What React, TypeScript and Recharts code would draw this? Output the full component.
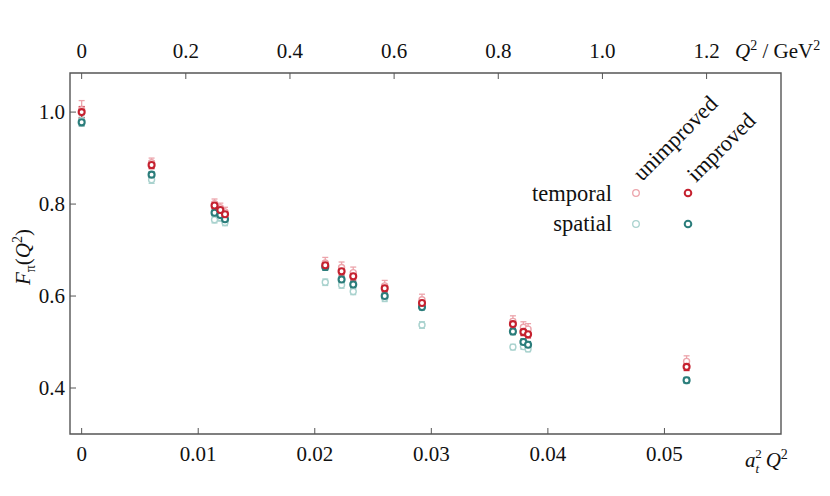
import React from 'react';
import { ScatterChart, Scatter, XAxis, YAxis, ErrorBar, ReferenceArea } from 'recharts';

// a_t^2 Q^2 positions of the momenta
const xPoints = [0, 0.006, 0.0114, 0.0119, 0.0123, 0.0209, 0.0223, 0.0233, 0.026, 0.0292, 0.037, 0.0379, 0.0383, 0.0519];

const temporalUnimproved = [1.005, 0.89, 0.801, 0.792, 0.783, 0.672, 0.662, 0.651, 0.622, 0.592, 0.545, 0.532, 0.528, 0.458];
const temporalUnimprovedErr = [0.02, 0.01, 0.01, 0.01, 0.01, 0.012, 0.012, 0.012, 0.012, 0.012, 0.012, 0.012, 0.012, 0.012];
const temporalImproved = [1.0, 0.885, 0.797, 0.787, 0.778, 0.667, 0.654, 0.643, 0.617, 0.585, 0.539, 0.522, 0.517, 0.446];
const temporalImprovedErr = [0.012, 0.008, 0.007, 0.007, 0.007, 0.008, 0.008, 0.008, 0.008, 0.008, 0.01, 0.008, 0.008, 0.008];
const spatialUnimproved = [0.982, 0.853, 0.766, 0.77, 0.76, 0.63, 0.624, 0.61, 0.595, 0.537, 0.489, 0.49, 0.485, 0.416];
const spatialUnimprovedErr = [0.01, 0.008, 0.007, 0.007, 0.007, 0.007, 0.007, 0.007, 0.007, 0.007, 0.006, 0.006, 0.006, 0.006];
const spatialImproved = [0.978, 0.864, 0.781, 0.776, 0.767, 0.663, 0.636, 0.625, 0.6, 0.576, 0.523, 0.5, 0.494, 0.417];
const spatialImprovedErr = [0.008, 0.006, 0.006, 0.006, 0.006, 0.007, 0.007, 0.007, 0.006, 0.006, 0.007, 0.007, 0.007, 0.006];

const AT2 = 0.04468; // a_t^2 in GeV^-2
const bottomTicks = [0, 0.01, 0.02, 0.03, 0.04, 0.05];
const bottomTickLabels = ['0', '0.01', '0.02', '0.03', '0.04', '0.05'];
const topTickQ2 = [0, 0.2, 0.4, 0.6, 0.8, 1.0, 1.2];
const topTickLabels = ['0', '0.2', '0.4', '0.6', '0.8', '1.0', '1.2'];
const yTicks = [0.4, 0.6, 0.8, 1.0];
const yTickLabels = ['0.4', '0.6', '0.8', '1.0'];

const X_DOMAIN: [number, number] = [-0.001, 0.06];
const Y_DOMAIN: [number, number] = [0.3, 1.085];

const FONT = "'Liberation Serif', 'DejaVu Serif', serif";
const FS = 21;
const LFS = 22.5;
const AXIS = '#555';
const TS = { fontFamily: FONT } as React.CSSProperties;

const C_TU = '#eca4ab';
const C_TI = '#c5212f';
const C_SU = '#a9d2ce';
const C_SI = '#2b7d7b';

const mk = (vals: number[], errs: number[]) => xPoints.map((x, i) => ({ x, y: vals[i], err: errs[i] }));

const shapeFor = (color: string, sw: number) => (p: any) => (
  <circle cx={p.cx} cy={p.cy} r={3} fill="#fff" stroke={color} strokeWidth={sw} />
);

const BottomTick = (p: any) => (
  <g>
    <line x1={p.x} x2={p.x} y1={p.y} y2={p.y - 6} stroke={AXIS} strokeWidth={1} />
    <text x={p.x} y={p.y + 27} textAnchor="middle" style={TS} fontSize={FS} fill="#111">
      {bottomTickLabels[p.index]}
    </text>
  </g>
);

const TopTick = (p: any) => (
  <g>
    <line x1={p.x} x2={p.x} y1={p.y} y2={p.y + 6} stroke={AXIS} strokeWidth={1} />
    <text x={p.x} y={p.y - 15} textAnchor="middle" style={TS} fontSize={FS} fill="#111">
      {topTickLabels[p.index]}
    </text>
  </g>
);

const LeftTick = (p: any) => (
  <g>
    <line x1={p.x} x2={p.x + 6} y1={p.y} y2={p.y} stroke={AXIS} strokeWidth={1} />
    <text x={p.x - 5} y={p.y + 7} textAnchor="end" style={TS} fontSize={FS} fill="#111">
      {yTickLabels[p.index]}
    </text>
  </g>
);

const series = [
  { name: 'spatial unimproved', data: mk(spatialUnimproved, spatialUnimprovedErr), color: C_SU, sw: 1.4 },
  { name: 'temporal unimproved', data: mk(temporalUnimproved, temporalUnimprovedErr), color: C_TU, sw: 1.4 },
  { name: 'spatial improved', data: mk(spatialImproved, spatialImprovedErr), color: C_SI, sw: 2.1 },
  { name: 'temporal improved', data: mk(temporalImproved, temporalImprovedErr), color: C_TI, sw: 2.1 },
];

export default function App() {
  const W = 822;
  const H = 480;
  return (
    <div style={{ position: 'relative', width: W, height: H, fontFamily: FONT }}>
      <ScatterChart width={W} height={H} margin={{ top: 35, right: 49, bottom: 24, left: 0 }}>
        <XAxis
          xAxisId={0}
          dataKey="x"
          type="number"
          domain={X_DOMAIN}
          allowDataOverflow
          ticks={bottomTicks}
          tick={BottomTick}
          tickSize={0}
          tickMargin={0}
          axisLine={false}
          tickLine={false}
          height={30}
          interval={0}
        />
        <XAxis
          xAxisId="top"
          orientation="top"
          dataKey="x"
          type="number"
          domain={X_DOMAIN}
          allowDataOverflow
          ticks={topTickQ2.map((q) => q * AT2)}
          tick={TopTick}
          tickSize={0}
          tickMargin={0}
          axisLine={false}
          tickLine={false}
          height={30}
          interval={0}
        />
        <YAxis
          yAxisId={0}
          dataKey="y"
          type="number"
          domain={Y_DOMAIN}
          allowDataOverflow
          ticks={yTicks}
          tick={LeftTick}
          tickSize={0}
          tickMargin={0}
          axisLine={false}
          tickLine={false}
          width={62}
          interval={0}
        />
        <ReferenceArea
          xAxisId={0}
          yAxisId={0}
          x1={X_DOMAIN[0]}
          x2={X_DOMAIN[1]}
          y1={Y_DOMAIN[0]}
          y2={Y_DOMAIN[1]}
          fill="none"
          stroke={AXIS}
          strokeWidth={1.4}
          ifOverflow="visible"
        />
        <Scatter
          xAxisId="top"
          yAxisId={0}
          data={series[0].data}
          isAnimationActive={false}
          shape={() => <g />}
        />
        {series.map((s) => (
          <Scatter
            key={s.name}
            name={s.name}
            xAxisId={0}
            yAxisId={0}
            data={s.data}
            isAnimationActive={false}
            shape={shapeFor(s.color, s.sw)}
          >
            <ErrorBar dataKey="err" direction="y" width={3} stroke={s.color} strokeWidth={1.3} />
          </Scatter>
        ))}
      </ScatterChart>
      <svg
        width={W}
        height={H}
        style={{ position: 'absolute', left: 0, top: 0, pointerEvents: 'none', fontFamily: FONT }}
      >
        {/* y axis label F_pi(Q^2) */}
        <g transform="translate(22,249) rotate(-90)">
          <text x={0} y={0} textAnchor="middle" fontSize={FS} fill="#111" style={TS}>
            <tspan fontStyle="italic">F</tspan>
            <tspan fontSize={14} dy={5}>π</tspan>
            <tspan dy={-5}>(</tspan>
            <tspan fontStyle="italic">Q</tspan>
            <tspan fontSize={14} dy={-8}>2</tspan>
            <tspan dy={8}>)</tspan>
          </text>
        </g>
        {/* top axis label */}
        <text x={727} y={50} fontSize={FS} fill="#111" style={TS}>
          <tspan fontStyle="italic">Q</tspan>
          <tspan fontSize={14} dy={-8}>2</tspan>
          <tspan dy={8}> / GeV</tspan>
          <tspan fontSize={14} dy={-8}>2</tspan>
        </text>
        {/* bottom axis label */}
        <text x={737} y={459} fontSize={FS} fill="#111" style={TS}>
          <tspan fontStyle="italic">a</tspan>
          <tspan fontSize={13} fontStyle="italic" dy={6}>t</tspan>
          <tspan fontSize={13} dx={-4} dy={-15}>2</tspan>
          <tspan fontStyle="italic" dx={4} dy={9}>Q</tspan>
          <tspan fontSize={14} dy={-8}>2</tspan>
        </text>
        {/* legend */}
        <text x={604} y={193} textAnchor="end" fontSize={LFS} fill="#111" style={TS}>temporal</text>
        <text x={604} y={223} textAnchor="end" fontSize={LFS} fill="#111" style={TS}>spatial</text>
        <g transform="translate(634,174) rotate(-45)">
          <text x={0} y={0} fontSize={LFS} fill="#111" style={TS}>unimproved</text>
        </g>
        <g transform="translate(688,175) rotate(-45)">
          <text x={0} y={0} fontSize={LFS} fill="#111" style={TS}>improved</text>
        </g>
        <circle cx={628} cy={185} r={3.3} fill="#fff" stroke={C_TU} strokeWidth={1.3} />
        <circle cx={680} cy={185} r={3.3} fill="#fff" stroke={C_TI} strokeWidth={2} />
        <circle cx={628} cy={216} r={3.3} fill="#fff" stroke={C_SU} strokeWidth={1.3} />
        <circle cx={680} cy={216} r={3.3} fill="#fff" stroke={C_SI} strokeWidth={2} />
      </svg>
    </div>
  );
}
